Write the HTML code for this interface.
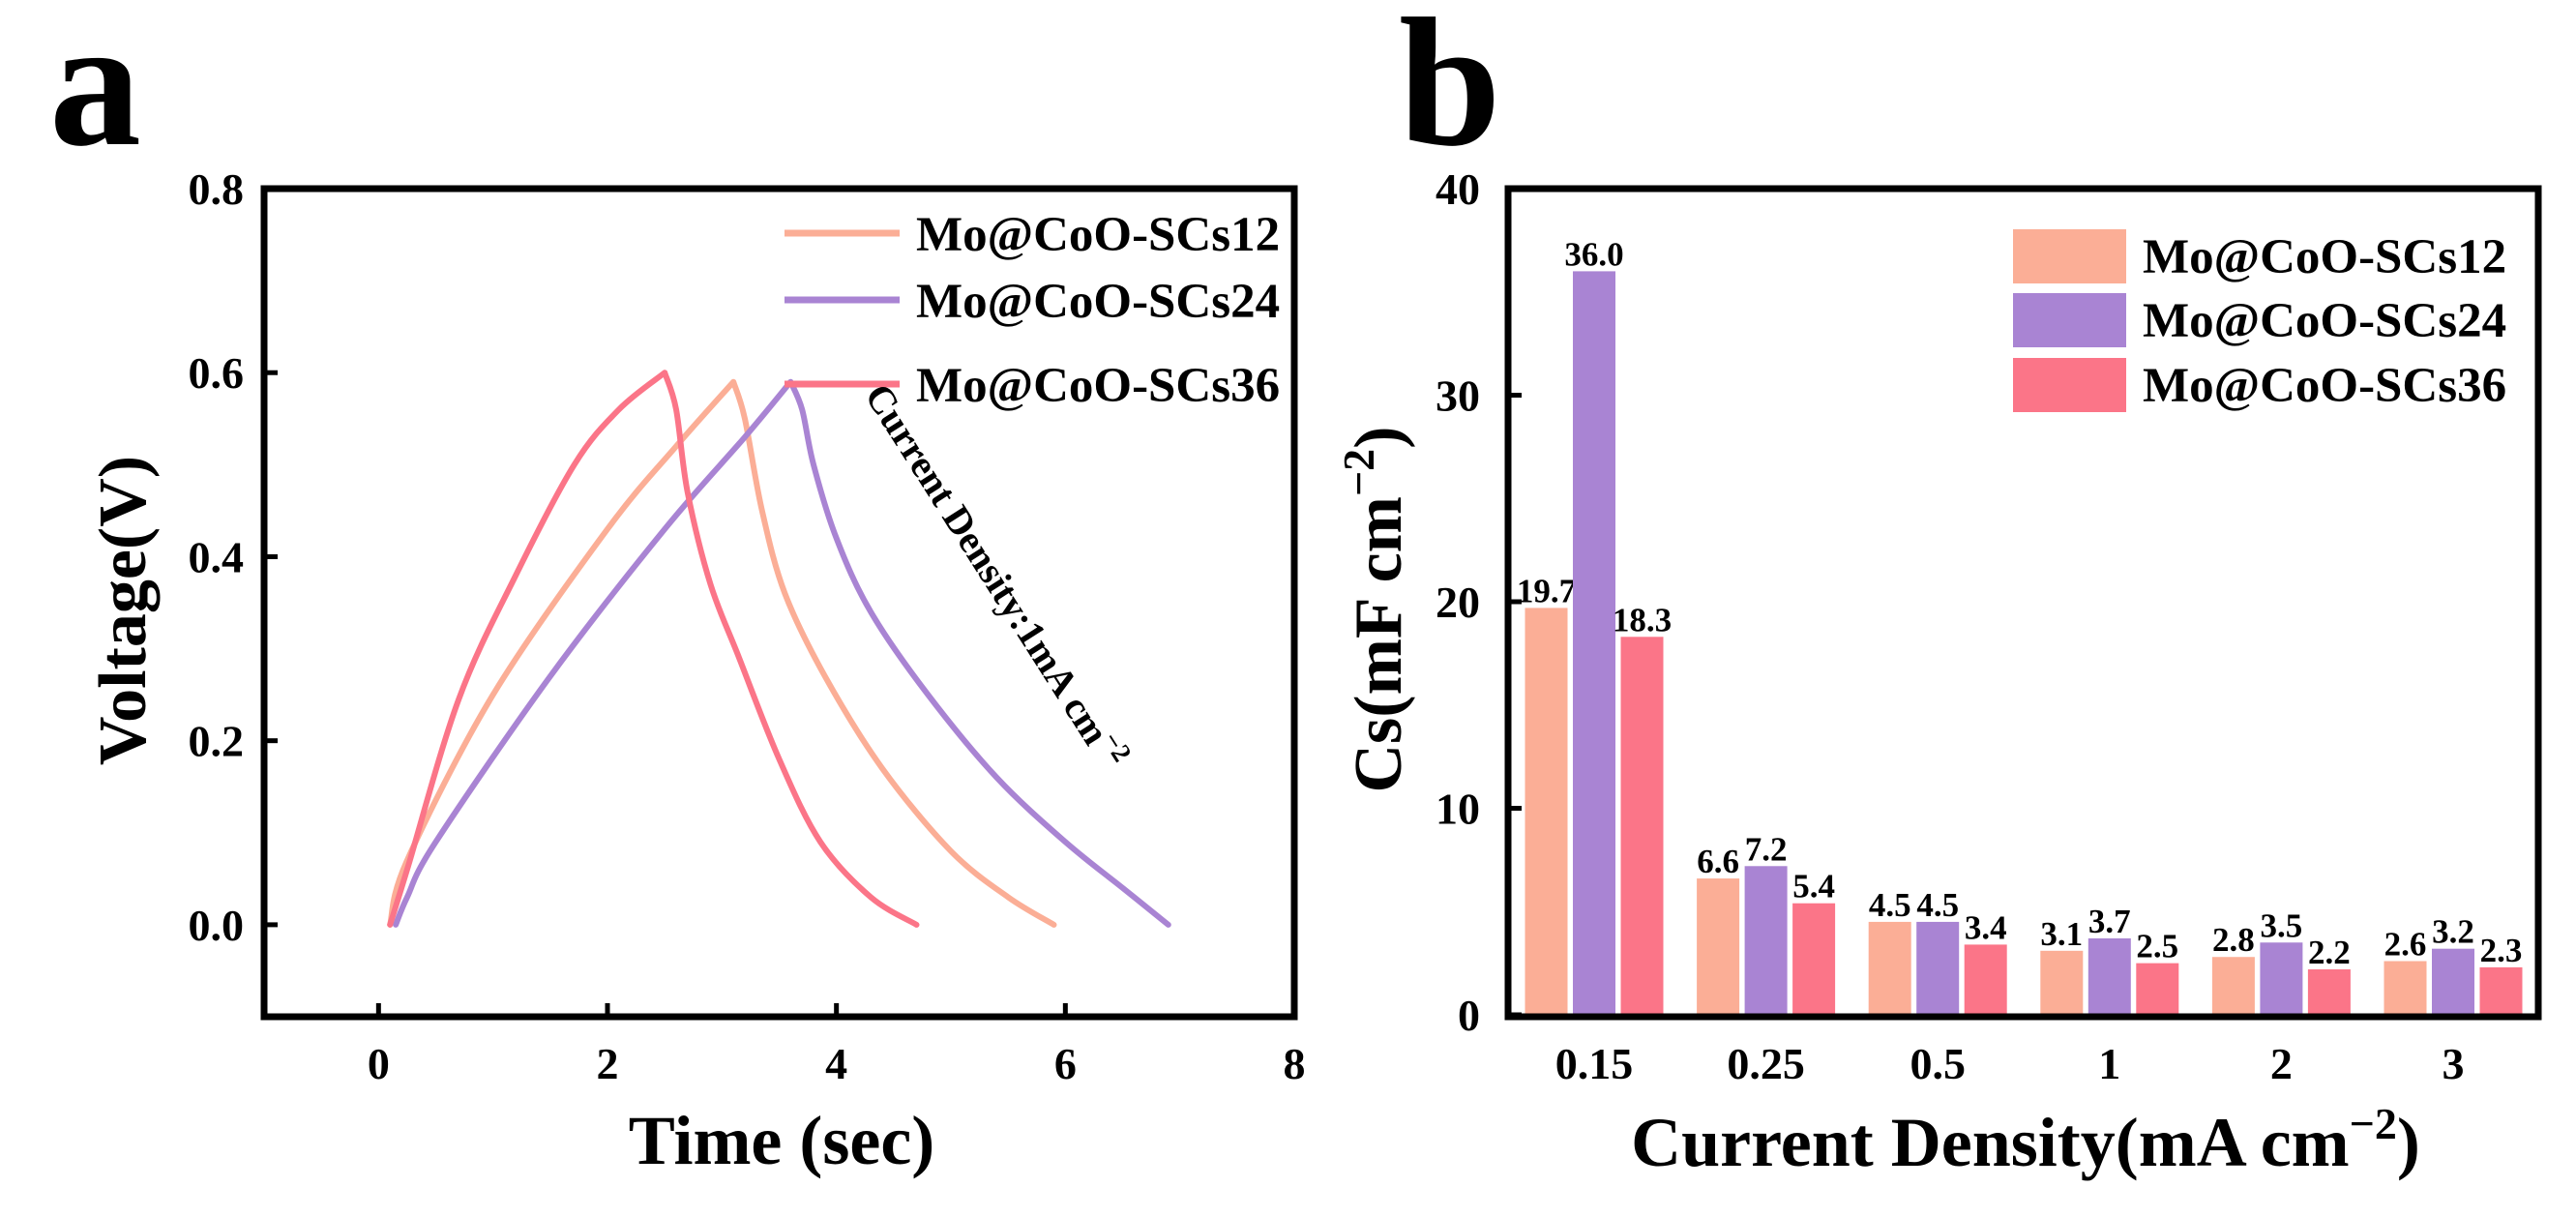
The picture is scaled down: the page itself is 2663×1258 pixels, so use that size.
<!DOCTYPE html>
<html><head><meta charset="utf-8"><style>
html,body{margin:0;padding:0;background:#fff;}
svg{display:block;font-family:"Liberation Serif","Times New Roman",serif;font-weight:bold;}
</style></head><body>
<svg id="fig" width="2663" height="1258" viewBox="0 0 2663 1258" xmlns="http://www.w3.org/2000/svg">
<g id="pa"></g>
<g id="pb"></g>
</svg>
<script>
// ---- Panel a data ----
const aSeriesNames = ["Mo@CoO-SCs12", "Mo@CoO-SCs24", "Mo@CoO-SCs36"];
const aColors = ["#FBAE96", "#A984D3", "#FB7588"];
const s12x = [0.1,0.25,1.0,2.0,2.6,3.1,3.2,3.35,3.55,3.9,4.4,5.0,5.5,5.9];
const s12y = [0,0.07,0.25,0.43,0.52,0.59,0.55,0.45,0.36,0.27,0.17,0.08,0.03,0];
const s24x = [0.15,0.25,0.5,1.5,2.5,3.2,3.6,3.7,3.8,4.0,4.3,4.8,5.4,6.0,6.5,6.9];
const s24y = [0,0.03,0.09,0.27,0.43,0.53,0.59,0.56,0.50,0.42,0.34,0.25,0.16,0.09,0.04,0];
const s36x = [0.1,0.25,0.7,1.2,1.71,2.1,2.5,2.6,2.7,2.9,3.15,3.5,3.86,4.3,4.7];
const s36y = [0,0.06,0.245,0.38,0.5,0.56,0.6,0.56,0.47,0.37,0.29,0.18,0.09,0.03,0];
const aXTicks = [0,2,4,6,8];
const aYTicks = [0.0,0.2,0.4,0.6,0.8];
// ---- Panel b data ----
const bCategories = ["0.15","0.25","0.5","1","2","3"];
const b12 = [19.7,6.6,4.5,3.1,2.8,2.6];
const b24 = [36.0,7.2,4.5,3.7,3.5,3.2];
const b36 = [18.3,5.4,3.4,2.5,2.2,2.3];
const bYTicks = [0,10,20,30,40];

const NS="http://www.w3.org/2000/svg";
function mk(parent,tag,attrs,text){const e=document.createElementNS(NS,tag);for(const k in attrs)e.setAttribute(k,attrs[k]);if(text!==undefined)e.textContent=text;parent.appendChild(e);return e;}
function smoothSeg(pts){
  if(pts.length<3) return pts.map((p,j)=>(j?'L':'')+p[0].toFixed(1)+','+p[1].toFixed(1)).join(' ');
  let d='';
  for(let i=0;i<pts.length-1;i++){
    const p0=pts[Math.max(0,i-1)],p1=pts[i],p2=pts[i+1],p3=pts[Math.min(pts.length-1,i+2)];
    const c1=[p1[0]+(p2[0]-p0[0])/6,p1[1]+(p2[1]-p0[1])/6];
    const c2=[p2[0]-(p3[0]-p1[0])/6,p2[1]-(p3[1]-p1[1])/6];
    d+=' C'+c1[0].toFixed(1)+','+c1[1].toFixed(1)+' '+c2[0].toFixed(1)+','+c2[1].toFixed(1)+' '+p2[0].toFixed(1)+','+p2[1].toFixed(1);
  }
  return d;
}

// Panel a
const pa=document.getElementById('pa');
const aL=273,aR=1338,aT=195,aB=1051;
const ax=v=>aL+(v-(-1))/(9)*(aR-aL);
const ay=v=>aB-(v-(-0.1))/(0.9)*(aB-aT);
let t=mk(pa,'text',{x:51,y:149,'font-size':190},'a');


aXTicks.forEach(v=>{
  let l=mk(pa,'line',{x1:ax(v),x2:ax(v),y1:aB,y2:aB-14,stroke:'#000','stroke-width':5});
  
  
  let tx=mk(pa,'text',{x:ax(v),y:1115,'font-size':46,'text-anchor':'middle'},String(v));
  
  
});
aYTicks.forEach(v=>{
  let l=mk(pa,'line',{x1:aL,x2:aL+14,y1:ay(v),y2:ay(v),stroke:'#000','stroke-width':5});
  
  
  let tx=mk(pa,'text',{x:252,y:ay(v)+16,'font-size':46,'text-anchor':'end'},v.toFixed(1));
  
  
});
[[s12x,s12y],[s24x,s24y],[s36x,s36y]].forEach((s,i)=>{
  const pts=s[0].map((x,j)=>[ax(x),ay(s[1][j])]);
  let pk=0;s[1].forEach((v,j)=>{if(v>s[1][pk])pk=j;});
  const d='M'+pts[0][0].toFixed(1)+','+pts[0][1].toFixed(1)+smoothSeg(pts.slice(0,pk+1))+smoothSeg(pts.slice(pk));
  let p=mk(pa,'path',{d:d,fill:'none',stroke:aColors[i],'stroke-width':6,'stroke-linejoin':'round','stroke-linecap':'round'});
  
  
});
let fr=mk(pa,'rect',{x:aL,y:aT,width:aR-aL,height:aB-aT,fill:'none',stroke:'#000','stroke-width':7});


const aLegY=[241,310,397];
aSeriesNames.forEach((n,i)=>{
  let l=mk(pa,'line',{x1:811,x2:930,y1:aLegY[i],y2:aLegY[i],stroke:aColors[i],'stroke-width':7});
  
  
  let tx=mk(pa,'text',{x:947,y:aLegY[i]+18,'font-size':51},n);
  
  
});
let ann=mk(pa,'text',{x:0,y:0,'font-size':40,transform:'translate(893,408) rotate(57.5)'});


ann.textContent='Current Density:1mA cm';
mk(ann,'tspan',{dy:-16,'font-size':28},'−2');
let yt=mk(pa,'text',{x:0,y:0,'font-size':70,'text-anchor':'middle',transform:'translate(150,631) rotate(-90)'},'Voltage(V)');


let xt=mk(pa,'text',{x:808,y:1203,'font-size':72,'text-anchor':'middle'},'Time (sec)');



// Panel b
const pb=document.getElementById('pb');
const bL=1559,bR=2624,bT=195,bB=1051;
const by=v=>1049-v*(1049-bT)/40;
const bx=i=>1648+i*177.6;
let tb=mk(pb,'text',{x:1446,y:149,'font-size':190},'b');


const bSeries=[b12,b24,b36];
bSeries.forEach((arr,si)=>{
  arr.forEach((v,i)=>{
    const cx=bx(i)+(si-1)*49.5;
    let r=mk(pb,'rect',{x:cx-22,y:by(v),width:44,height:1049-by(v),fill:aColors[si]});
    
    
    let tx=mk(pb,'text',{x:cx,y:by(v)-6,'font-size':35,'text-anchor':'middle'},v.toFixed(1));
    
    
  });
});
bCategories.forEach((c,i)=>{
  let tx=mk(pb,'text',{x:bx(i),y:1115,'font-size':46,'text-anchor':'middle'},c);
  
  
});
bYTicks.forEach(v=>{
  let l=mk(pb,'line',{x1:bL,x2:bL+14,y1:by(v),y2:by(v),stroke:'#000','stroke-width':5});
  
  
  let tx=mk(pb,'text',{x:1530,y:by(v)+16,'font-size':46,'text-anchor':'end'},String(v));
  
  
});
let fb=mk(pb,'rect',{x:bL,y:bT,width:bR-bL,height:bB-bT,fill:'none',stroke:'#000','stroke-width':7});


const bLegY=[237,303,370];
aSeriesNames.forEach((n,i)=>{
  let r=mk(pb,'rect',{x:2081,y:bLegY[i],width:117,height:56,fill:aColors[i]});
  
  
  let tx=mk(pb,'text',{x:2215,y:bLegY[i]+45,'font-size':51},n);
  
  
});
let ybt=mk(pb,'text',{x:0,y:0,'font-size':70,'text-anchor':'middle',transform:'translate(1448,630) rotate(-90)'});


ybt.textContent='Cs(mF cm';
mk(ybt,'tspan',{dy:-28,'font-size':46},'−2');
mk(ybt,'tspan',{dy:28},')');
let xbt=mk(pb,'text',{x:2094,y:1205,'font-size':72,'text-anchor':'middle'});


xbt.textContent='Current Density(mA cm';
mk(xbt,'tspan',{dy:-28,'font-size':46},'−2');
mk(xbt,'tspan',{dy:28},')');
</script>
</body></html>
